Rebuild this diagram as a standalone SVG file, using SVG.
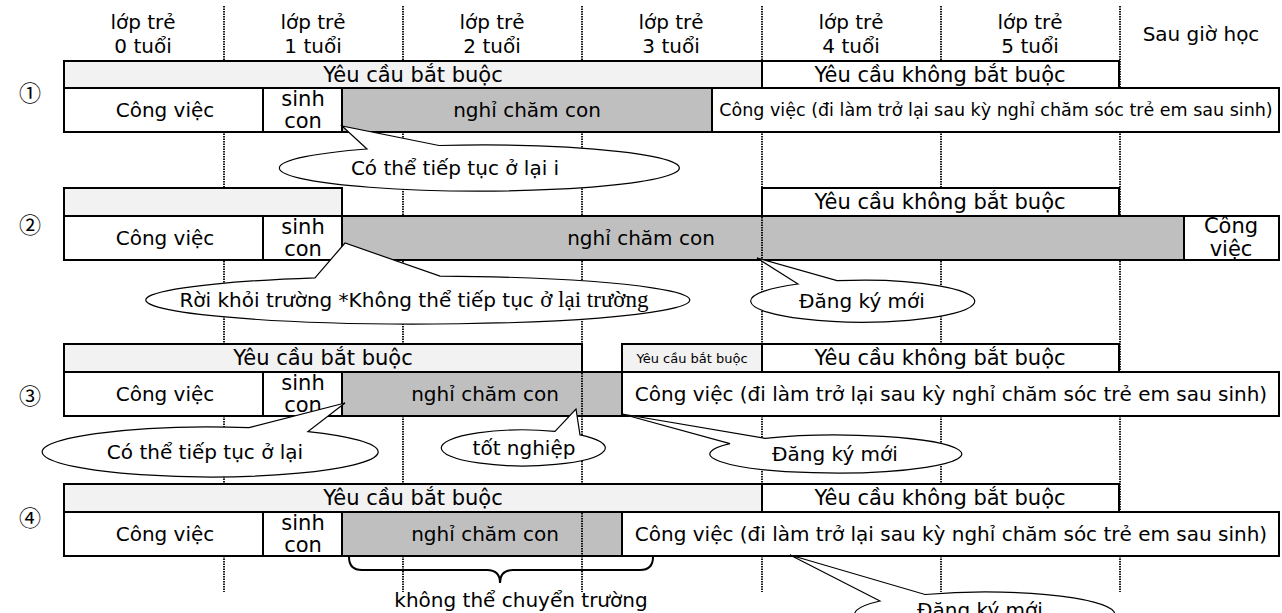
<svg xmlns="http://www.w3.org/2000/svg" width="1282" height="613" viewBox="0 0 1282 613">
<style>
.bx{stroke:#000;stroke-width:2}
.w{fill:#fff}.lg{fill:#f2f2f2}.g{fill:#bfbfbf}
.t{font-family:"DejaVu Sans",sans-serif;font-size:20px;fill:#000;text-anchor:middle}
.tb{font-size:21px}
.ts{font-size:13px}
.tm{font-size:17.5px}
.num{font-family:"Noto Sans CJK JP","DejaVu Sans",sans-serif;font-size:22px}
.serif{font-family:"Liberation Serif",serif;font-size:23px}
.dot{stroke:#000;stroke-width:1.8;stroke-dasharray:1.5 1;fill:none}
.call{fill:#fff;stroke:#000;stroke-width:1.2;stroke-linejoin:miter}
.brace{fill:none;stroke:#000;stroke-width:2}
</style>
<rect width="1282" height="613" fill="#fff"/>
<g id="grid">
<line class="dot" x1="224" y1="6" x2="224" y2="592"/>
<line class="dot" x1="403" y1="6" x2="403" y2="592"/>
<line class="dot" x1="582" y1="6" x2="582" y2="592"/>
<line class="dot" x1="762" y1="6" x2="762" y2="592"/>
<line class="dot" x1="941" y1="6" x2="941" y2="592"/>
<line class="dot" x1="1120" y1="6" x2="1120" y2="592"/>
</g>
<g id="header">
<text class="t" x="143" y="29">lớp trẻ</text><text class="t" x="143" y="53">0 tuổi</text>
<text class="t" x="313" y="29">lớp trẻ</text><text class="t" x="313" y="53">1 tuổi</text>
<text class="t" x="492" y="29">lớp trẻ</text><text class="t" x="492" y="53">2 tuổi</text>
<text class="t" x="671" y="29">lớp trẻ</text><text class="t" x="671" y="53">3 tuổi</text>
<text class="t" x="851" y="29">lớp trẻ</text><text class="t" x="851" y="53">4 tuổi</text>
<text class="t" x="1030" y="29">lớp trẻ</text><text class="t" x="1030" y="53">5 tuổi</text>
<text class="t" x="1201" y="41">Sau giờ học</text>
</g>
<g id="row1">
<text class="t num" x="30" y="101">①</text>
<rect class="bx lg" x="64" y="61" width="698" height="27"/><text class="t tb" x="413" y="82">Yêu cầu bắt buộc</text>
<rect class="bx w" x="762" y="61" width="357" height="27"/><text class="t tb" x="940" y="82">Yêu cầu không bắt buộc</text>
<rect class="bx w" x="64" y="88" width="199" height="44"/><text class="t" x="165" y="117">Công việc</text>
<rect class="bx w" x="263" y="88" width="79" height="44"/><text class="t tb" x="303" y="106">sinh</text><text class="t tb" x="303" y="128">con</text>
<rect class="bx g" x="342" y="88" width="370" height="44"/><text class="t" x="527" y="117">nghỉ chăm con</text>
<rect class="bx w" x="712" y="88" width="567" height="44"/><text class="t tm" x="996" y="116">Công việc (đi làm trở lại sau kỳ nghỉ chăm sóc trẻ em sau sinh)</text>
</g>
<g id="row2">
<text class="t num" x="30" y="233">②</text>
<rect class="bx lg" x="64" y="188" width="278" height="28"/>
<rect class="bx w" x="762" y="188" width="357" height="28"/><text class="t tb" x="940" y="209">Yêu cầu không bắt buộc</text>
<rect class="bx w" x="64" y="216" width="199" height="44"/><text class="t" x="165" y="245">Công việc</text>
<rect class="bx w" x="263" y="216" width="79" height="44"/><text class="t tb" x="303" y="234">sinh</text><text class="t tb" x="303" y="256">con</text>
<rect class="bx g" x="342" y="216" width="842" height="44"/><text class="t" x="641" y="245">nghỉ chăm con</text>
<line class="dot" x1="762" y1="217" x2="762" y2="259"/>
<rect class="bx w" x="1184" y="216" width="95" height="44"/><text class="t tb" x="1231" y="233">Công</text><text class="t tb" x="1231" y="256">việc</text>
</g>
<g id="row3">
<text class="t num" x="30" y="404">③</text>
<rect class="bx lg" x="64" y="344" width="518" height="28"/><text class="t tb" x="323" y="365">Yêu cầu bắt buộc</text>
<rect class="bx lg" x="622" y="344" width="140" height="28"/><text class="t ts" x="692" y="363">Yêu cầu bắt buộc</text>
<rect class="bx w" x="762" y="344" width="357" height="28"/><text class="t tb" x="940" y="365">Yêu cầu không bắt buộc</text>
<rect class="bx w" x="64" y="372" width="199" height="44"/><text class="t" x="165" y="401">Công việc</text>
<rect class="bx w" x="263" y="372" width="79" height="44"/><text class="t tb" x="303" y="390">sinh</text><text class="t tb" x="303" y="412">con</text>
<rect class="bx g" x="342" y="372" width="280" height="44"/><text class="t" x="485" y="401">nghỉ chăm con</text>
<line class="dot" x1="582" y1="373" x2="582" y2="415"/>
<rect class="bx w" x="622" y="372" width="657" height="44"/><text class="t" x="951" y="401">Công việc (đi làm trở lại sau kỳ nghỉ chăm sóc trẻ em sau sinh)</text>
</g>
<g id="row4">
<text class="t num" x="30" y="526">④</text>
<rect class="bx lg" x="64" y="484" width="698" height="28"/><text class="t tb" x="413" y="505">Yêu cầu bắt buộc</text>
<rect class="bx w" x="762" y="484" width="357" height="28"/><text class="t tb" x="940" y="505">Yêu cầu không bắt buộc</text>
<rect class="bx w" x="64" y="512" width="199" height="44"/><text class="t" x="165" y="541">Công việc</text>
<rect class="bx w" x="263" y="512" width="79" height="44"/><text class="t tb" x="303" y="530">sinh</text><text class="t tb" x="303" y="552">con</text>
<rect class="bx g" x="342" y="512" width="280" height="44"/><text class="t" x="485" y="541">nghỉ chăm con</text>
<line class="dot" x1="582" y1="513" x2="582" y2="555"/>
<rect class="bx w" x="622" y="512" width="657" height="44"/><text class="t" x="951" y="541">Công việc (đi làm trở lại sau kỳ nghỉ chăm sóc trẻ em sau sinh)</text>
</g>
<g id="callouts">
<g id="c1"><path class="call" d="M367 149 L342 126 L439 145.5 A200 23 0 1 1 367 149 Z"/><text class="t" x="455" y="175">Có thể tiếp tục ở lại i</text></g>
<g id="c2"><path class="call" d="M315 277.8 L345 243 L440 276.1 A272 24 0 1 1 315 277.8 Z"/><text class="t" x="414" y="307">Rời khỏi trường *Không thể tiếp tục <tspan class="serif">ở lại trường</tspan></text></g>
<g id="c3"><path class="call" d="M798 284 L757 258 L837 280.7 A112 21 0 1 1 798 284 Z"/><text class="t" x="862" y="308">Đăng ký mới</text></g>
<g id="c4"><path class="call" d="M249 427.6 L345 403 L308 431.6 A168 25 0 1 1 249 427.6 Z"/><text class="t" x="205" y="459">Có thể tiếp tục ở lại</text></g>
<g id="c5"><path class="call" d="M555 431.3 L576 409 L580 434.9 A82 18 0 1 1 555 431.3 Z"/><text class="t" x="524" y="455">tốt nghiệp</text></g>
<g id="c6"><path class="call" d="M730 443.7 L622 414 L765 438.3 A126 19 0 1 1 730 443.7 Z"/><text class="t" x="835" y="461">Đăng ký mới</text></g>
<g id="c7"><path class="call" d="M880 601 L790 555 L925 594.5 A130 22 0 1 1 880 601 Z"/><text class="t" x="980" y="617">Đăng ký mới</text></g>
</g>
<g id="brace">
<path class="brace" d="M349 557 Q349 570 362 570 L487 570 Q500 570 500 583 Q500 570 513 570 L640 570 Q653 570 653 557"/>
<text class="t" x="521" y="607">không thể chuyển trường</text>
</g>
</svg>
